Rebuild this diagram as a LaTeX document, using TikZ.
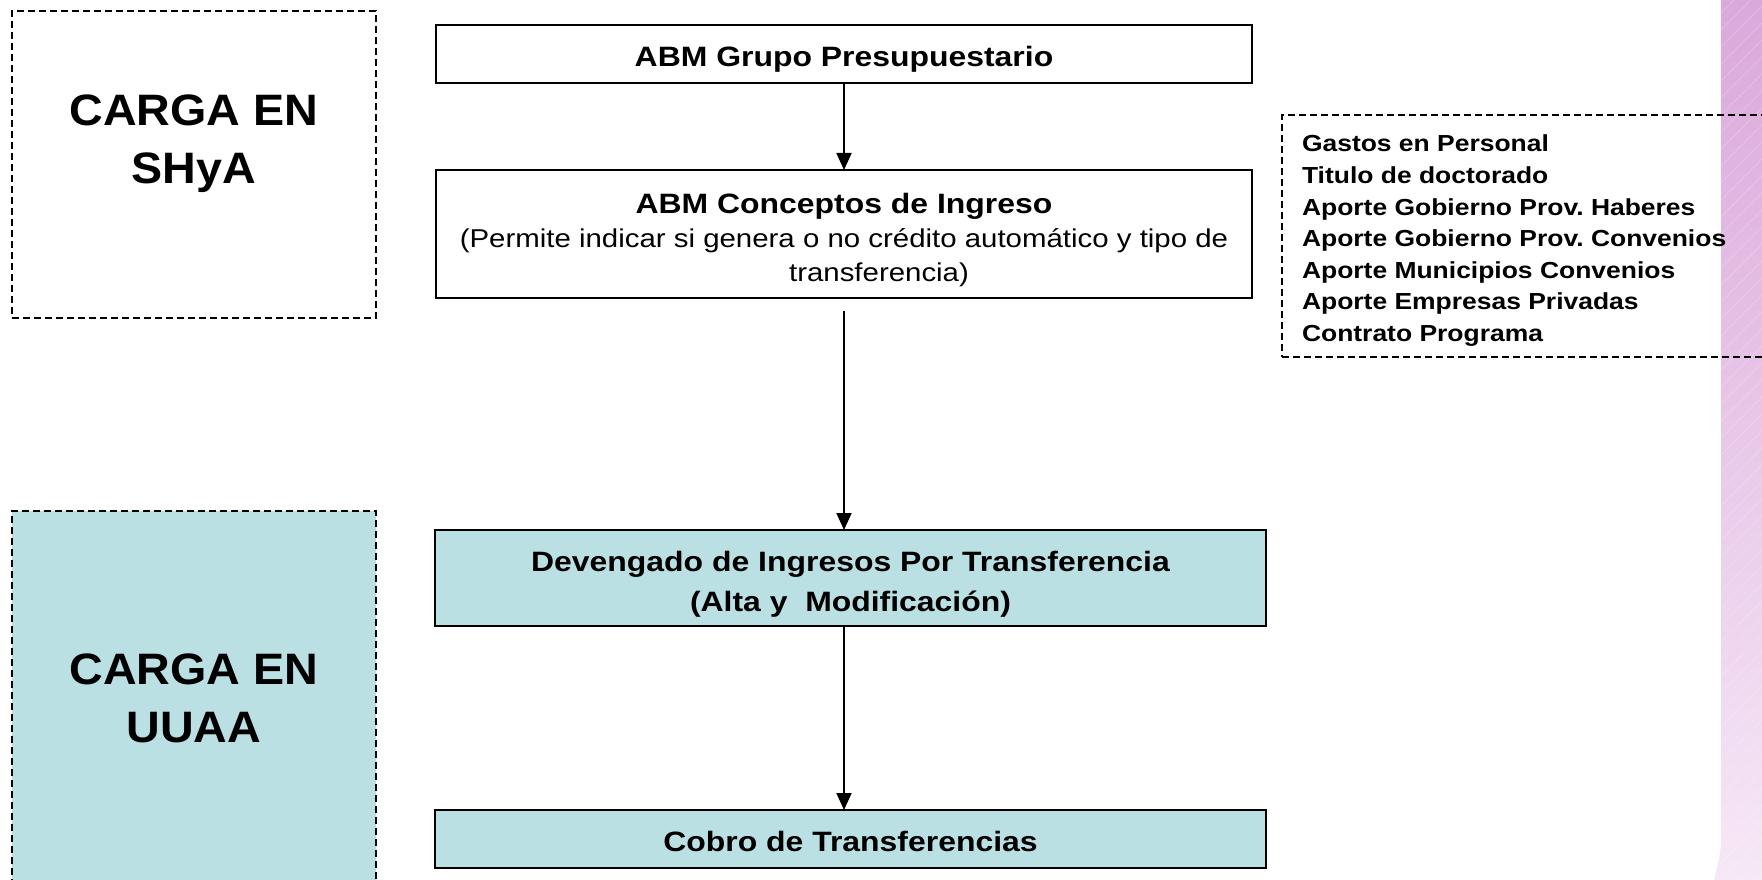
\documentclass[tikz,border=0pt]{standalone}
\usepackage{fontspec}
\setmainfont{Liberation Sans}[FakeStretch=1.14]
\newfontfamily\bigsans{Liberation Sans}[FakeStretch=1.06]
\usetikzlibrary{arrows.meta}
\definecolor{tealfill}{RGB}{187,224,227}
\definecolor{bandtop}{RGB}{219,168,219}
\definecolor{bandbot}{RGB}{246,232,246}
\tikzset{
  flowbox/.style={draw=black, line width=1.8pt, inner sep=0pt, outer sep=0pt},
  zone/.style={draw=black, line width=1.5pt, dash pattern=on 7pt off 4pt, inner sep=0pt, outer sep=0pt},
  flow/.style={draw=black, line width=1.8pt, -{Triangle[width=15pt,length=17pt]}},
  bigtxt/.style={font=\bigsans\bfseries\fontsize{44}{58}\selectfont},
  hatch/.style={draw=white, opacity=0.2, line width=0.8pt}
}
\frenchspacing
\begin{document}
\begin{tikzpicture}[x=1pt,y=-1pt]
\clip (0,0) rectangle (1762,880);
\fill[white] (0,0) rectangle (1762,880);
% decorative band
\shade[top color=bandtop, bottom color=bandbot]
  (1721,0) -- (1762,0) -- (1762,880) -- (1714,880) .. controls (1717,866) and (1721,856) .. (1721,838) -- cycle;
\begin{scope}
  \clip (1721,0) -- (1762,0) -- (1762,880) -- (1714,880) .. controls (1717,866) and (1721,856) .. (1721,838) -- cycle;
  \foreach \i in {0,...,58} { \draw[hatch] (1700,\i*17) -- ++(90,-90); }
\end{scope}

% zones
\node[zone, minimum width=364pt, minimum height=307pt, bigtxt, text height=0pt, text depth=77pt] (shya) at (194,164.5)
  {\begin{tabular}[t]{@{}c@{}}CARGA EN\\SHyA\end{tabular}};
\node[zone, fill=tealfill, minimum width=364pt, minimum height=389pt, bigtxt, text height=0pt, text depth=43pt] (uuaa) at (194,705.5)
  {\begin{tabular}[t]{@{}c@{}}CARGA EN\\UUAA\end{tabular}};
\node[zone, anchor=north west, minimum height=242pt, inner xsep=20pt, inner ysep=0pt,
      text height=0pt, text depth=168pt, font=\bfseries\fontsize{23.2}{31.6}\selectfont] (lst) at (1282,115)
  {\makebox[500pt][l]{\begin{tabular}[t]{@{}l@{}}Gastos en Personal\\Titulo de doctorado\\Aporte Gobierno Prov. Haberes\\Aporte Gobierno Prov. Convenios\\Aporte Municipios Convenios\\Aporte Empresas Privadas\\Contrato Programa\end{tabular}}};

% flow boxes
\node[flowbox, fill=white, minimum width=816pt, minimum height=58pt, text height=25.4pt, text depth=0pt,
      font=\bfseries\fontsize{28}{34}\selectfont] (g1) at (844,54) {ABM Grupo Presupuestario};
\node[flowbox, fill=white, minimum width=816pt, minimum height=128pt, text height=0pt, text depth=42pt,
      font=\fontsize{28}{34}\selectfont] (c2) at (844,234)
  {\begin{tabular}[t]{@{}c@{}}\bfseries ABM Conceptos de Ingreso\\
   \fontsize{25.8}{34}\selectfont(Permite indicar si genera o no crédito automático y tipo de\\
   \fontsize{25.8}{34}\selectfont\hspace*{70pt}transferencia)\end{tabular}};
\node[flowbox, fill=tealfill, minimum width=831pt, minimum height=96pt, text height=0pt, text depth=12.6pt,
      font=\bfseries\fontsize{28}{40}\selectfont] (d1) at (850.5,578)
  {\begin{tabular}[t]{@{}c@{}}Devengado de Ingresos Por Transferencia\\(Alta y~ Modificación)\end{tabular}};
\node[flowbox, fill=tealfill, minimum width=831pt, minimum height=58pt, text height=25.4pt, text depth=0pt,
      font=\bfseries\fontsize{28}{34}\selectfont] (cb) at (850.5,839) {Cobro de Transferencias};

% connectors
\draw[flow] (g1.south) -- (c2.north);
\draw[flow] ([yshift=-13pt]c2.south) -- (d1.north -| c2.south);
\draw[flow] (d1.south -| g1.south) -- (cb.north -| g1.south);
\end{tikzpicture}
\end{document}
